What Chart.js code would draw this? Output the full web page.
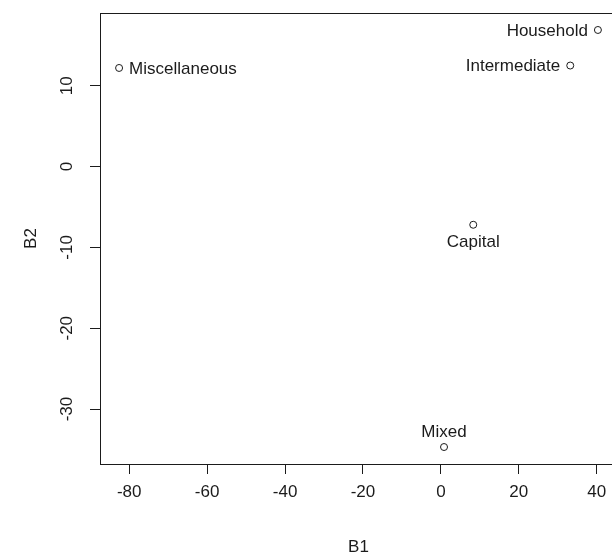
<!DOCTYPE html>
<html>
<head>
<meta charset="utf-8">
<script src="https://cdn.jsdelivr.net/npm/chart.js@4/dist/chart.umd.min.js"></script>
<style>
    html, body { margin: 0; padding: 0; overflow: hidden; background: #fff; }
</style>
</head>
<body>
<canvas id="scores" width="622" height="556"></canvas>
<script>
// points
const names = ['Miscellaneous', 'Household', 'Intermediate', 'Capital', 'Mixed'];
const b1 = [-82.6, 40.3, 33.2, 8.3, 0.8];
const b2 = [12.2, 16.9, 12.5, -7.2, -34.7];

const xTicks = [-80, -60, -40, -20, 0, 20, 40];
const yTicks = [-30, -20, -10, 0, 10];

// which side of the point the name goes (like R's pos: 1 below, 2 left, 3 above, 4 right)
const labelSide = { Miscellaneous: 4, Household: 2, Intermediate: 2, Capital: 1, Mixed: 3 };

const family = "'Liberation Sans', Arial, sans-serif";
const font = "17px " + family;
const ink = '#1b1b1b';

// box round the plot region + point names
const boxAndNames = {
    id: 'boxAndNames',
    afterDatasetsDraw(chart) {
        const ctx = chart.ctx;
        const a = chart.chartArea;
        ctx.save();
        ctx.strokeStyle = ink;
        ctx.lineWidth = 1;
        ctx.strokeRect(Math.round(a.left) + 0.5, Math.round(a.top) + 0.5, a.right - a.left, a.bottom - a.top);

        ctx.font = font;
        ctx.fillStyle = ink;
        const meta = chart.getDatasetMeta(0);
        meta.data.forEach((pt, i) => {
            let side = labelSide[names[i]];
            let x = pt.x, y = pt.y;
            ctx.textBaseline = 'middle';
            if (side == 1) {
                ctx.textAlign = 'center';
                y += 18;
            } else if (side == 2) {
                ctx.textAlign = 'right';
                x -= 10; y += 1;
            } else if (side == 3) {
                ctx.textAlign = 'center';
                y -= 15;
            } else {
                ctx.textAlign = 'left';
                x += 10; y += 1;
            }
            ctx.fillText(names[i], x, y);
        });
        ctx.restore();
    }
};

const ctx = document.getElementById('scores').getContext('2d');
new Chart(ctx, {
    type: 'scatter',
    data: {
        datasets: [{
            label: 'scores',
            data: b1.map((v, i) => ({ x: v, y: b2[i] })),
            pointRadius: 3.5,
            pointBorderWidth: 1,
            borderColor: ink,
            backgroundColor: '#fff'
        }]
    },
    options: {
        responsive: false,
        animation: false,
        devicePixelRatio: 1,
        events: [],
        layout: { padding: { top: 13, right: 1, left: 0, bottom: 0 } },
        plugins: {
            legend: { display: false },
            tooltip: { enabled: false }
        },
        scales: {
            x: {
                type: 'linear',
                min: -87.5,
                max: 45.2,
                afterBuildTicks: s => { s.ticks = xTicks.map(v => ({ value: v })); },
                afterFit: s => { s.height = 92; s.paddingLeft = 0; s.paddingRight = 0; },
                border: { display: true, color: ink, width: 1 },
                grid: { display: true, drawOnChartArea: false, drawTicks: true, tickLength: 10, tickColor: ink, tickWidth: 1 },
                ticks: {
                    autoSkip: false, maxRotation: 0, padding: 8,
                    color: ink, font: { family: family, size: 17 }
                },
                title: {
                    display: true, text: 'B1', color: ink, padding: { top: 0, bottom: -2 },
                    font: { family: family, size: 17 }
                }
            },
            y: {
                type: 'linear',
                min: -36.8,
                max: 19.0,
                afterBuildTicks: s => { s.ticks = yTicks.map(v => ({ value: v })); },
                afterFit: s => { s.width = 100; s.paddingTop = 0; s.paddingBottom = 0; },
                border: { display: true, color: ink, width: 1 },
                grid: { display: true, drawOnChartArea: false, drawTicks: true, tickLength: 10, tickColor: ink, tickWidth: 1 },
                ticks: {
                    autoSkip: false, minRotation: 90, maxRotation: 90, crossAlign: 'center', padding: 10,
                    color: ink, font: { family: family, size: 17 }
                },
                title: {
                    display: true, text: 'B2', color: ink, padding: { top: 21, bottom: 0 },
                    font: { family: family, size: 17 }
                }
            }
        }
    },
    plugins: [boxAndNames]
});
</script>
</body>
</html>
